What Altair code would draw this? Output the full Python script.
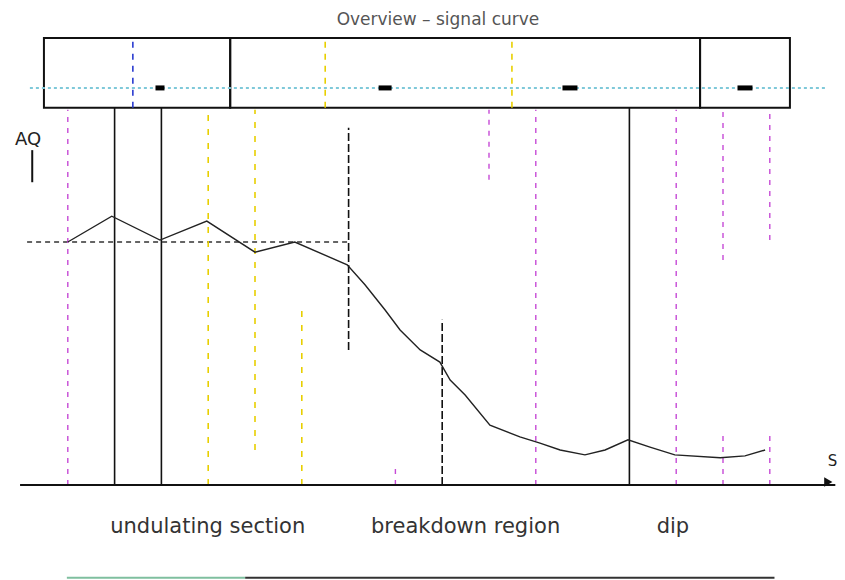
import altair as alt
import pandas as pd

# ---- data ----
curve_x = [1.0, 1.94, 2.97, 3.97, 5.0, 5.85, 6.97, 7.35, 7.78, 8.1, 8.53, 8.95, 9.17, 9.49,
           10.02, 10.66, 11.09, 11.52, 12.05, 12.48, 12.97, 13.44, 13.97, 14.94, 15.47, 15.9]
curve_y = [5.0, 5.53, 5.04, 5.43, 4.79, 5.0, 4.53, 4.12, 3.6, 3.19, 2.78, 2.53, 2.16, 1.85,
           1.23, 0.99, 0.86, 0.72, 0.62, 0.72, 0.93, 0.78, 0.62, 0.56, 0.6, 0.72]

# vertical guide lines: position, bottom, top, style group
vl_x = [1, 2, 3, 4, 5, 6, 7, 8, 9, 10, 11, 13, 14, 15, 15, 16, 16]
vl_lo = [0, 0, 0, 0, 0.72, 0, 2.78, 0, 0, 6.28, 0, 0, 0, 4.63, 0, 5.04, 0]
vl_hi = [7.72, 7.76, 7.76, 7.72, 7.72, 3.6, 7.35, 0.41, 3.4, 7.72, 7.72, 7.76, 7.72, 7.72, 1.13, 7.72, 1.13]
vl_kind = ["violet", "solid", "solid", "gold", "gold", "gold", "dark", "violet", "dark",
           "violet", "violet", "solid", "violet", "violet", "violet", "violet", "violet"]

# top boxes (phases)
box_x0 = [0.49, 4.47, 14.51]
box_x1 = [4.47, 14.51, 16.43]
box_y0 = 7.76
box_y1 = 9.2
box_mid_x = [2.39, 6.5, 10.49]
box_mid_kind = ["blue", "gold", "gold"]
marker_x = [2.97, 7.78, 11.73, 15.47]
marker_len = [9, 13, 15, 15]
marker_y = 8.17
band_x0, band_x1 = 0.19, 17.18

ref_level = 5.0
ref_x0, ref_x1 = 0.13, 7.0

labels = ["undulating section", "breakdown region", "dip"]
label_x = [3.99, 9.5, 13.93]
label_y = -0.86

title_text = "Overview \u2013 signal curve"

W, H = 829, 572
x_dom = [-13 / 46.8, (W - 13) / 46.8]
y_dom = [(477 - H) / 48.6, 477 / 48.6]

X = lambda f="x": alt.X(f"{f}:Q", scale=alt.Scale(domain=x_dom, nice=False, zero=False), axis=None)
Y = lambda f="y": alt.Y(f"{f}:Q", scale=alt.Scale(domain=y_dom, nice=False, zero=False), axis=None)

curve = alt.Chart(pd.DataFrame({"x": curve_x, "y": curve_y})).mark_line(
    color="#222", strokeWidth=1.4).encode(x=X(), y=Y())

vdf = pd.DataFrame({"x": vl_x, "y": vl_lo, "y2": vl_hi, "k": vl_kind})
styles = {
    "solid": dict(color="#111", strokeWidth=1.6),
    "dark": dict(color="#111", strokeWidth=1.6, strokeDash=[8, 3]),
    "gold": dict(color="#e8cf00", strokeWidth=1.6, strokeDash=[6, 8]),
    "violet": dict(color="#c64ad6", strokeWidth=1.4, strokeDash=[5, 6]),
}
vlayers = [
    alt.Chart(vdf[vdf.k == k]).mark_rule(**s).encode(x=X(), y=Y(), y2="y2:Q")
    for k, s in styles.items()
]

bdf = pd.DataFrame({"x": box_x0, "x2": box_x1, "y": [box_y0] * 3, "y2": [box_y1] * 3})
boxes = alt.Chart(bdf).mark_rect(fill=None, stroke="#111", strokeWidth=2).encode(
    x=X(), x2="x2:Q", y=Y(), y2="y2:Q")

band = alt.Chart(pd.DataFrame({"x": [band_x0], "x2": [band_x1], "y": [marker_y]})).mark_rule(
    color="#7fc9d9", strokeWidth=2, strokeDash=[3, 3]).encode(x=X(), x2="x2:Q", y=Y())

mdf = pd.DataFrame({"x": box_mid_x, "y": [box_y0] * 3, "y2": [box_y1] * 3, "k": box_mid_kind})
mid_colors = {"blue": "#2a3bd0", "gold": "#e8cf00"}
mids = [
    alt.Chart(mdf[mdf.k == k]).mark_rule(strokeWidth=1.6, strokeDash=[6, 6], color=c).encode(
        x=X(), y=Y(), y2="y2:Q")
    for k, c in mid_colors.items()
]

markers = alt.Chart(pd.DataFrame({"x": marker_x, "y": [marker_y] * 4, "len": marker_len})).mark_tick(
    orient="horizontal", thickness=5, color="#000", opacity=1).encode(
    x=X(), y=Y(), size=alt.Size("len:Q", scale=None, legend=None))

ref = alt.Chart(pd.DataFrame({"x": [ref_x0], "x2": [ref_x1], "y": [ref_level]})).mark_rule(
    color="#333", strokeWidth=1.4, strokeDash=[5, 4]).encode(x=X(), x2="x2:Q", y=Y())

axis_line = alt.Chart(pd.DataFrame({"x": [-0.02], "x2": [17.4], "y": [0]})).mark_rule(
    color="#111", strokeWidth=2).encode(x=X(), x2="x2:Q", y=Y())
arrow = alt.Chart(pd.DataFrame({"x": [17.25], "y": [0.06]})).mark_point(
    shape="triangle-right", filled=True, size=90, color="#111", opacity=1).encode(x=X(), y=Y())
x_title = alt.Chart(pd.DataFrame({"x": [17.34], "y": [0.5], "t": ["S"]})).mark_text(
    fontSize=15, font="DejaVu Sans", color="#222").encode(x=X(), y=Y(), text="t:N")
y_title = alt.Chart(pd.DataFrame({"x": [0.15], "y": [7.1], "t": ["AQ"]})).mark_text(
    fontSize=18, font="DejaVu Sans", color="#222").encode(x=X(), y=Y(), text="t:N")
y_stem = alt.Chart(pd.DataFrame({"x": [0.24], "y": [6.23], "y2": [6.89]})).mark_rule(
    color="#111", strokeWidth=2).encode(x=X(), y=Y(), y2="y2:Q")

lab = alt.Chart(pd.DataFrame({"x": label_x, "y": [label_y] * 3, "t": labels})).mark_text(
    fontSize=21, font="DejaVu Sans", color="#333").encode(x=X(), y=Y(), text="t:N")

title = alt.Chart(pd.DataFrame({"x": [8.91], "y": [9.57], "t": [title_text]})).mark_text(
    fontSize=17, font="DejaVu Sans", color="#555").encode(x=X(), y=Y(), text="t:N")

bar_a = alt.Chart(pd.DataFrame({"x": [0.98], "x2": [4.79], "y": [-1.91]})).mark_rule(
    strokeWidth=2, color="#7fbf9f").encode(x=X(), x2="x2:Q", y=Y())
bar_b = alt.Chart(pd.DataFrame({"x": [4.79], "x2": [16.1], "y": [-1.91]})).mark_rule(
    strokeWidth=2, color="#333").encode(x=X(), x2="x2:Q", y=Y())

chart = alt.layer(
    ref, *vlayers, boxes, band, *mids, markers, curve, axis_line, arrow,
    x_title, y_title, y_stem, lab, title, bar_a, bar_b
).properties(width=W, height=H, padding=0, autosize=alt.AutoSizeParams(type="none")
).configure_view(stroke=None)

chart.save("out.html", embed_options={"renderer": "svg", "actions": False})
